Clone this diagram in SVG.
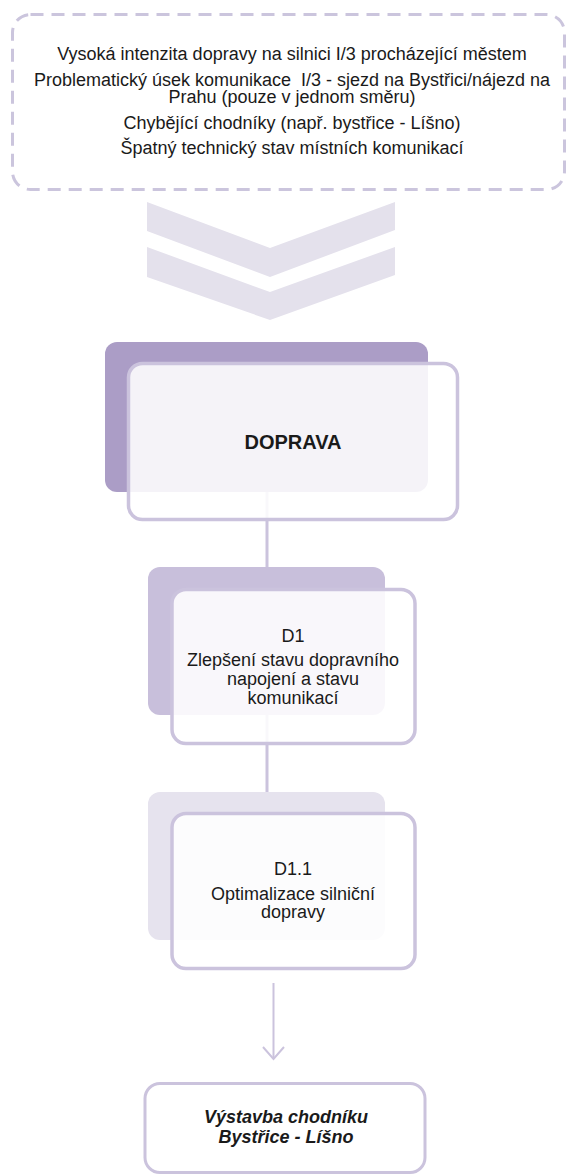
<svg xmlns="http://www.w3.org/2000/svg" width="568" height="1175" viewBox="0 0 568 1175">
<style>
.t{font-family:"Liberation Sans",Arial,sans-serif;fill:#1a1a1a;text-anchor:middle}
.f18{font-size:18px}
.front{fill:#ffffff;fill-opacity:0.88;stroke:#cbc3dd;stroke-width:3.5}
.conn{stroke:#cbc3dd;stroke-width:3;fill:none}
</style>
<rect x="0" y="0" width="568" height="1175" fill="#ffffff"/>
<g id="problems">
<rect x="12.5" y="14.5" width="552" height="175" rx="18" fill="none" stroke="#cbc5dd" stroke-width="3" stroke-dasharray="13 8"/>
<text class="t f18" x="292" y="60">Vysoká intenzita dopravy na silnici I/3 procházející městem</text>
<text class="t f18" x="292" y="86" xml:space="preserve">Problematický úsek komunikace  I/3 - sjezd na Bystřici/nájezd na</text>
<text class="t f18" x="292" y="102.5">Prahu (pouze v jednom směru)</text>
<text class="t f18" x="292" y="129">Chybějící chodníky (např. bystřice - Líšno)</text>
<text class="t f18" x="292" y="154">Špatný technický stav místních komunikací</text>
</g>
<g id="chevrons" fill="#e4e1ec">
<polygon points="147,202 270,248 395,202 395,230 270,277 147,231"/>
<polygon points="147,247 270,292 395,247 395,275 270,320 147,277"/>
</g>
<g id="connectors">
<line class="conn" x1="267" y1="490" x2="267" y2="568"/>
<line class="conn" x1="267" y1="714" x2="267" y2="793"/>
<line x1="273.5" y1="983" x2="273.5" y2="1059" stroke="#cbc3dd" stroke-width="2"/>
<polyline points="263,1047 273.5,1059 284,1047" fill="none" stroke="#cbc3dd" stroke-width="2"/>
</g>
<g id="doprava">
<rect x="105" y="342" width="323" height="150" rx="12" fill="#ab9dc6"/>
<rect class="front" x="128.5" y="363.5" width="329" height="156" rx="14"/>
<text class="t" x="293" y="449" font-size="20" font-weight="bold">DOPRAVA</text>
</g>
<g id="d1">
<rect x="148" y="567" width="237" height="148" rx="12" fill="#c8bfdb"/>
<rect class="front" x="172" y="589.5" width="243" height="154" rx="14"/>
<text class="t f18" x="293" y="642">D1</text>
<text class="t f18" x="293" y="666">Zlepšení stavu dopravního</text>
<text class="t f18" x="293" y="685">napojení a stavu</text>
<text class="t f18" x="293" y="704">komunikací</text>
</g>
<g id="d11">
<rect x="148" y="792" width="237" height="148" rx="12" fill="#e6e3ee"/>
<rect class="front" x="172" y="813.5" width="243" height="155" rx="14"/>
<text class="t f18" x="293" y="875">D1.1</text>
<text class="t f18" x="293" y="900">Optimalizace silniční</text>
<text class="t f18" x="293" y="917.5">dopravy</text>
</g>
<g id="action">
<rect x="145" y="1083.5" width="280" height="89" rx="15" fill="#ffffff" stroke="#cbc3dd" stroke-width="3"/>
<text class="t f18" x="286" y="1123" font-weight="bold" font-style="italic">Výstavba chodníku</text>
<text class="t f18" x="286" y="1143" font-weight="bold" font-style="italic">Bystřice - Líšno</text>
</g>
</svg>
